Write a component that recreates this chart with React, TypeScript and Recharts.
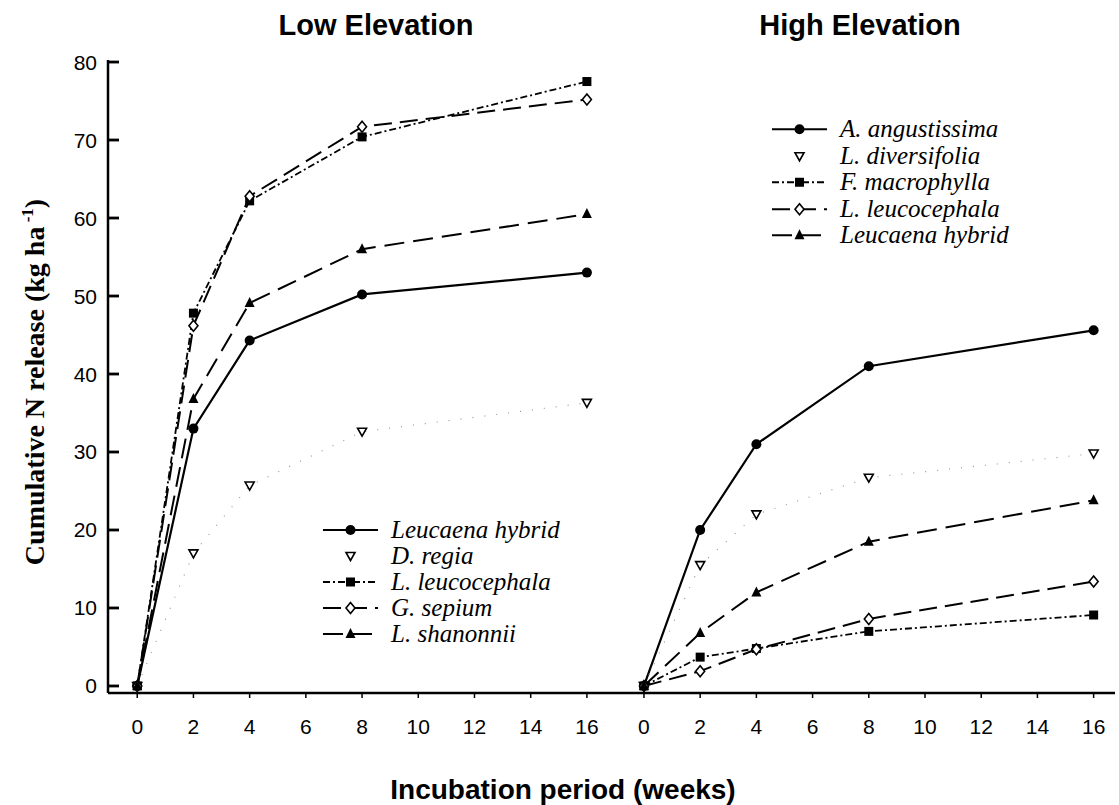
import React from 'react';
import { LineChart, Line, XAxis, YAxis, Legend } from 'recharts';

// weeks at which N release was measured
const weeks = [0, 2, 4, 8, 16];
const xTicks = [0, 2, 4, 6, 8, 10, 12, 14, 16];
const yTicks = [0, 10, 20, 30, 40, 50, 60, 70, 80];

// Low elevation (kg ha-1)
const lowLeucaenaHybrid = [0, 33, 44.3, 50.2, 53];
const lowDRegia = [0, 17, 25.7, 32.6, 36.3];
const lowLLeucocephala = [0, 47.8, 62.2, 70.4, 77.5];
const lowGSepium = [0, 46.2, 62.8, 71.7, 75.2];
const lowLShanonnii = [0, 36.8, 49.1, 56, 60.5];

// High elevation (kg ha-1)
const highAAngustissima = [0, 20, 31, 41, 45.6];
const highLDiversifolia = [0, 15.5, 22, 26.7, 29.8];
const highFMacrophylla = [0, 3.7, 4.8, 7, 9.1];
const highLLeucocephala = [0, 1.9, 4.7, 8.6, 13.4];
const highLeucaenaHybrid = [0, 6.8, 12, 18.5, 23.8];

type MarkerKind = 'circle' | 'triDown' | 'square' | 'diamond' | 'triUp';

type Series = {
  key: string;
  name: string;
  values: number[];
  marker: MarkerKind;
  dash?: string;
  stroke: string;
  width: number;
};

const lowSeries: Series[] = [
  { key: 'lh', name: 'Leucaena hybrid', values: lowLeucaenaHybrid, marker: 'circle', stroke: '#000', width: 2.2 },
  { key: 'dr', name: 'D. regia', values: lowDRegia, marker: 'triDown', dash: '1 11', stroke: '#999', width: 1.2 },
  { key: 'll', name: 'L. leucocephala', values: lowLLeucocephala, marker: 'square', dash: '7 3 2 3', stroke: '#000', width: 1.8 },
  { key: 'gs', name: 'G. sepium', values: lowGSepium, marker: 'diamond', dash: '18 8', stroke: '#000', width: 2 },
  { key: 'ls', name: 'L. shanonnii', values: lowLShanonnii, marker: 'triUp', dash: '20 9', stroke: '#000', width: 2 },
];

const highSeries: Series[] = [
  { key: 'aa', name: 'A. angustissima', values: highAAngustissima, marker: 'circle', stroke: '#000', width: 2.2 },
  { key: 'ld', name: 'L. diversifolia', values: highLDiversifolia, marker: 'triDown', dash: '1 11', stroke: '#999', width: 1.2 },
  { key: 'fm', name: 'F. macrophylla', values: highFMacrophylla, marker: 'square', dash: '7 3 2 3', stroke: '#000', width: 1.8 },
  { key: 'll', name: 'L. leucocephala', values: highLLeucocephala, marker: 'diamond', dash: '18 8', stroke: '#000', width: 2 },
  { key: 'lh', name: 'Leucaena hybrid', values: highLeucaenaHybrid, marker: 'triUp', dash: '20 9', stroke: '#000', width: 2 },
];

const sans = '"Liberation Sans", Arial, sans-serif';
const serif = '"Liberation Serif", "Times New Roman", serif';
const yDomain = [-0.9, 80.26];
const border = { stroke: '#000', strokeWidth: 2.5 };

function Marker({ kind, cx, cy }: { kind: MarkerKind; cx: number; cy: number }) {
  switch (kind) {
    case 'circle':
      return <circle cx={cx} cy={cy} r={5} fill="#000" />;
    case 'triDown':
      return (
        <polygon
          points={`${cx - 4.5},${cy - 3.5} ${cx + 4.5},${cy - 3.5} ${cx},${cy + 4.5}`}
          fill="#fff"
          stroke="#000"
          strokeWidth={1.6}
        />
      );
    case 'square':
      return <rect x={cx - 4.5} y={cy - 4.5} width={9} height={9} fill="#000" />;
    case 'diamond':
      return (
        <polygon
          points={`${cx},${cy - 5.5} ${cx + 4.5},${cy} ${cx},${cy + 5.5} ${cx - 4.5},${cy}`}
          fill="#fff"
          stroke="#000"
          strokeWidth={1.6}
        />
      );
    default:
      return <polygon points={`${cx},${cy - 6} ${cx + 5},${cy + 4} ${cx - 5},${cy + 4}`} fill="#000" />;
  }
}

// inward tick marks (and optional labels) for the box axes
const leftTick = (showLabel: boolean) => (props: any) => {
  const { x, y, payload } = props;
  return (
    <g key={`lt-${payload.value}`}>
      <line x1={x} x2={x + 11} y1={y} y2={y} stroke="#000" strokeWidth={2.8} />
      {showLabel && (
        <text x={x - 11} y={y} dy={7.5} textAnchor="end" fontSize={21} fontFamily={sans} fill="#000">
          {payload.value}
        </text>
      )}
    </g>
  );
};

const rightTick = (props: any) => {
  const { x, y, payload } = props;
  return <line key={`rt-${payload.value}`} x1={x - 11} x2={x} y1={y} y2={y} stroke="#000" strokeWidth={2.8} />;
};

function LegendBox({ series, sample, rowH }: { series: Series[]; sample: number; rowH: number }) {
  return (
    <div>
      {series.map((s) => (
        <div key={s.key} style={{ display: 'flex', alignItems: 'center', height: rowH }}>
          <svg width={sample} height={rowH}>
            {s.marker !== 'triDown' && (
              <line
                x1={0}
                x2={sample}
                y1={rowH / 2}
                y2={rowH / 2}
                stroke="#000"
                strokeWidth={s.width}
                strokeDasharray={s.dash}
              />
            )}
            <Marker kind={s.marker} cx={sample / 2} cy={rowH / 2} />
          </svg>
          <span
            style={{
              marginLeft: 13,
              fontFamily: serif,
              fontStyle: 'italic',
              fontSize: 25,
              color: '#000',
              whiteSpace: 'nowrap',
            }}
          >
            {s.name}
          </span>
        </div>
      ))}
    </div>
  );
}

type PanelProps = {
  series: Series[];
  xDomain: number[];
  width: number;
  yLabels: boolean;
  margin: { top: number; right: number; bottom: number; left: number };
  legendLeft: number;
  legendTop: number;
  sample: number;
  rowH: number;
};

function Panel({ series, xDomain, width, yLabels, margin, legendLeft, legendTop, sample, rowH }: PanelProps) {
  const data = weeks.map((w, i) => {
    const row: Record<string, number> = { week: w };
    series.forEach((s) => {
      row[s.key] = s.values[i];
    });
    return row;
  });

  return (
    <LineChart width={width} height={805} data={data} margin={margin}>
      <XAxis
        dataKey="week"
        type="number"
        domain={xDomain}
        allowDataOverflow
        ticks={xTicks}
        interval={0}
        height={60}
        axisLine={border}
        tickLine={{ stroke: '#000', strokeWidth: 1.5 }}
        tickSize={5}
        tickMargin={21}
        tick={{ fill: '#000', fontSize: 21, fontFamily: sans }}
      />
      <XAxis
        xAxisId="top"
        orientation="top"
        type="number"
        domain={xDomain}
        allowDataOverflow
        height={0}
        tick={false}
        tickLine={false}
        axisLine={border}
      />
      <YAxis
        type="number"
        domain={yDomain}
        allowDataOverflow
        ticks={yTicks}
        interval={0}
        width={yLabels ? 60 : 0}
        tickSize={0}
        tickMargin={0}
        tickLine={false}
        axisLine={border}
        tick={leftTick(yLabels)}
      />
      <YAxis
        yAxisId="r"
        orientation="right"
        type="number"
        domain={yDomain}
        allowDataOverflow
        ticks={yTicks}
        interval={0}
        width={0}
        tickSize={0}
        tickMargin={0}
        tickLine={false}
        axisLine={border}
        tick={rightTick}
      />
      {series.map((s) => (
        <Line
          key={s.key}
          dataKey={s.key}
          name={s.name}
          type="linear"
          stroke={s.stroke}
          strokeWidth={s.width}
          strokeDasharray={s.dash}
          isAnimationActive={false}
          dot={(p: any) => <Marker key={`${s.key}-${p.index}`} kind={s.marker} cx={p.cx} cy={p.cy} />}
        />
      ))}
      <Legend
        layout="vertical"
        align="center"
        verticalAlign="middle"
        wrapperStyle={{ left: legendLeft, top: legendTop, width: 'auto' }}
        content={() => <LegendBox series={series} sample={sample} rowH={rowH} />}
      />
    </LineChart>
  );
}

export default function App() {
  return (
    <div style={{ position: 'absolute', left: 0, top: 0, width: 1119, height: 805, background: '#fff' }}>
      <div style={{ position: 'absolute', left: 0, top: 0 }}>
        <Panel
          series={lowSeries}
          xDomain={[-1.04, 17.0]}
          width={620}
          yLabels
          margin={{ top: 60, right: 5, bottom: 52, left: 48 }}
          legendLeft={323}
          legendTop={517}
          sample={55}
          rowH={26}
        />
      </div>
      <div style={{ position: 'absolute', left: 600, top: 0 }}>
        <Panel
          series={highSeries}
          xDomain={[-1.03, 16.76]}
          width={519}
          yLabels={false}
          margin={{ top: 60, right: 4, bottom: 52, left: 15 }}
          legendLeft={172}
          legendTop={116}
          sample={55}
          rowH={26.5}
        />
      </div>
      <svg
        width={1119}
        height={805}
        style={{ position: 'absolute', left: 0, top: 0, pointerEvents: 'none' }}
      >
        <text x={376} y={35} textAnchor="middle" fontFamily={sans} fontWeight="bold" fontSize={29} fill="#000">
          Low Elevation
        </text>
        <text x={860} y={35} textAnchor="middle" fontFamily={sans} fontWeight="bold" fontSize={29} fill="#000">
          High Elevation
        </text>
        <text x={563} y={799} textAnchor="middle" fontFamily={sans} fontWeight="bold" fontSize={28} fill="#000">
          Incubation period (weeks)
        </text>
        <text
          transform="translate(44,382) rotate(-90)"
          textAnchor="middle"
          fontFamily={serif}
          fontWeight="bold"
          fontSize={28}
          fill="#000"
        >
          Cumulative N release (kg ha
          <tspan dy={-11} fontSize={17}>
            {' '}-1
          </tspan>
          <tspan dy={11}>)</tspan>
        </text>
      </svg>
    </div>
  );
}
